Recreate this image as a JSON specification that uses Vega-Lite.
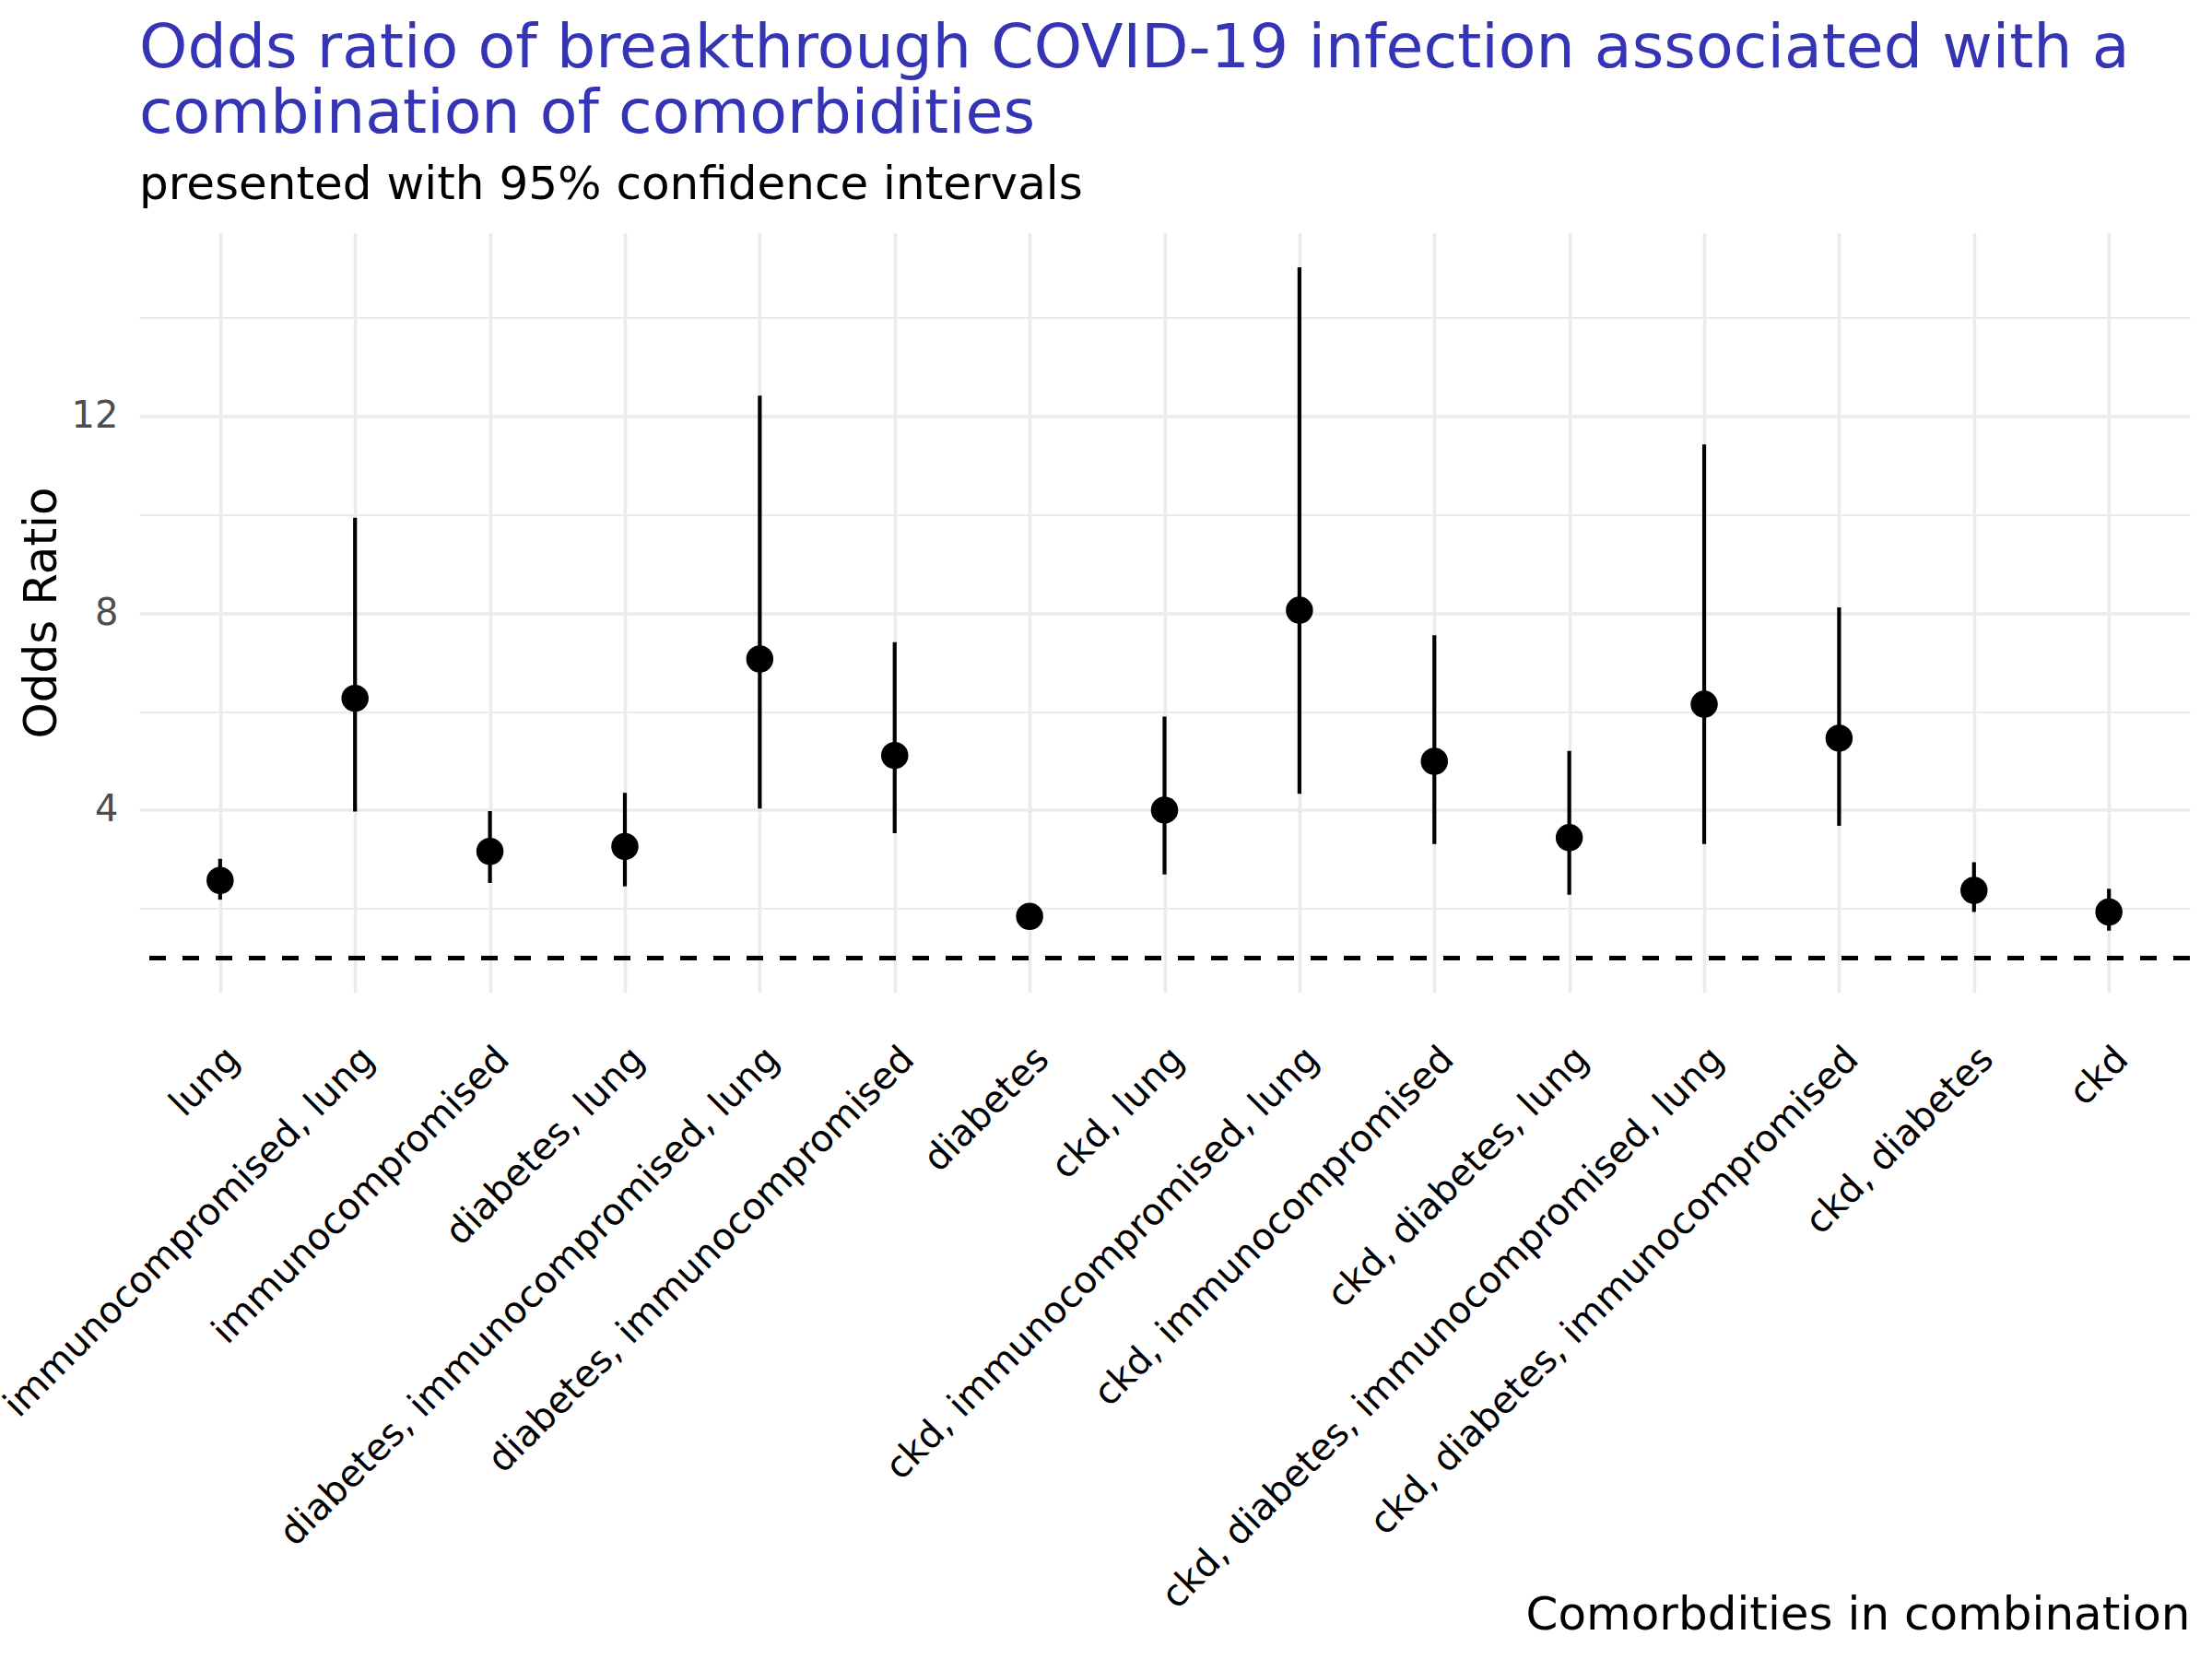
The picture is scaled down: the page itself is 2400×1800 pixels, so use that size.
{
  "$schema": "https://vega.github.io/schema/vega-lite/v6.json",
  "autosize": {"type": "none"},
  "width": 2225,
  "height": 824,
  "padding": {"left": 151, "top": 252.5, "right": 24, "bottom": 723.5},
  "background": "white",
  "title": {
    "text": ["Odds ratio of breakthrough COVID-19 infection associated with a", "combination of comorbidities"],
    "subtitle": "presented with 95% confidence intervals",
    "anchor": "start",
    "frame": "group",
    "font": "DejaVu Sans",
    "fontSize": 66.6,
    "fontWeight": "normal",
    "lineHeight": 71,
    "color": "#3434B4",
    "subtitleFont": "DejaVu Sans",
    "subtitleFontSize": 50,
    "subtitleColor": "#000000",
    "subtitlePadding": 18,
    "offset": 27
  },
  "data": {
    "values": [
      {"combo": "lung", "or": 2.57, "lower": 2.18, "upper": 3.01},
      {"combo": "immunocompromised, lung", "or": 6.27, "lower": 3.97, "upper": 9.94},
      {"combo": "immunocompromised", "or": 3.16, "lower": 2.52, "upper": 3.98},
      {"combo": "diabetes, lung", "or": 3.26, "lower": 2.45, "upper": 4.35},
      {"combo": "diabetes, immunocompromised, lung", "or": 7.07, "lower": 4.03, "upper": 12.42},
      {"combo": "diabetes, immunocompromised", "or": 5.11, "lower": 3.53, "upper": 7.41},
      {"combo": "diabetes", "or": 1.84, "lower": 1.72, "upper": 1.97},
      {"combo": "ckd, lung", "or": 4.0, "lower": 2.69, "upper": 5.9},
      {"combo": "ckd, immunocompromised, lung", "or": 8.06, "lower": 4.33, "upper": 15.03},
      {"combo": "ckd, immunocompromised", "or": 4.99, "lower": 3.31, "upper": 7.55},
      {"combo": "ckd, diabetes, lung", "or": 3.44, "lower": 2.28, "upper": 5.2},
      {"combo": "ckd, diabetes, immunocompromised, lung", "or": 6.15, "lower": 3.31, "upper": 11.43},
      {"combo": "ckd, diabetes, immunocompromised", "or": 5.46, "lower": 3.68, "upper": 8.12},
      {"combo": "ckd, diabetes", "or": 2.37, "lower": 1.93, "upper": 2.94},
      {"combo": "ckd", "or": 1.93, "lower": 1.55, "upper": 2.4}
    ]
  },
  "encoding": {
    "x": {
      "field": "combo",
      "type": "nominal",
      "sort": null,
      "scale": {"type": "point", "padding": 0.6},
      "axis": {
        "title": "Comorbdities in combination",
        "titleFont": "DejaVu Sans",
        "titleFontSize": 50,
        "titleFontWeight": "normal",
        "titleColor": "#000000",
        "titleAnchor": "end",
        "titleAlign": "right",
        "titleBaseline": "alphabetic",
        "titleY": 690.5,
        "labelFont": "DejaVu Sans",
        "labelFontSize": 40,
        "labelColor": "#000000",
        "labelAngle": 315,
        "labelAlign": "right",
        "labelBaseline": "top",
        "labelPadding": 52,
        "labelLimit": 2000,
        "labelOverlap": false,
        "labelFlush": false,
        "labelBound": false,
        "domain": false,
        "ticks": false,
        "tickSize": 0,
        "grid": true,
        "gridColor": "#EBEBEB",
        "gridWidth": 3.6
      }
    }
  },
  "layer": [
    {
      "mark": {"type": "rule", "strokeDash": [18, 18], "strokeWidth": 4.2, "color": "#000000"},
      "encoding": {"y": {"datum": 1, "type": "quantitative"}, "x": null}
    },
    {
      "mark": {"type": "rule", "strokeWidth": 4.2, "color": "#000000"},
      "encoding": {
        "y": {
          "field": "lower",
          "type": "quantitative",
          "scale": {"domain": [0.3, 15.73], "nice": false, "zero": false},
          "axis": {
            "title": "Odds Ratio",
            "titleFont": "DejaVu Sans",
            "titleFontSize": 50,
            "titleFontWeight": "normal",
            "titleColor": "#000000",
            "titleBaseline": "alphabetic",
            "titleX": -91,
            "values": [2, 4, 6, 8, 10, 12, 14],
            "labelExpr": "datum.value % 4 === 0 ? datum.label : ''",
            "labelFont": "DejaVu Sans",
            "labelFontSize": 40,
            "labelColor": "#4D4D4D",
            "labelPadding": 23,
            "domain": false,
            "ticks": false,
            "tickSize": 0,
            "grid": true,
            "gridColor": "#EBEBEB",
            "gridWidth": {"condition": {"test": "datum.value % 4 === 0", "value": 3.6}, "value": 1.8}
          }
        },
        "y2": {"field": "upper"}
      }
    },
    {
      "mark": {"type": "point", "filled": true, "shape": "circle", "size": 870, "color": "#000000", "opacity": 1},
      "encoding": {
        "y": {"field": "or", "type": "quantitative"}
      }
    }
  ],
  "config": {
    "view": {"stroke": null},
    "font": "DejaVu Sans"
  }
}
